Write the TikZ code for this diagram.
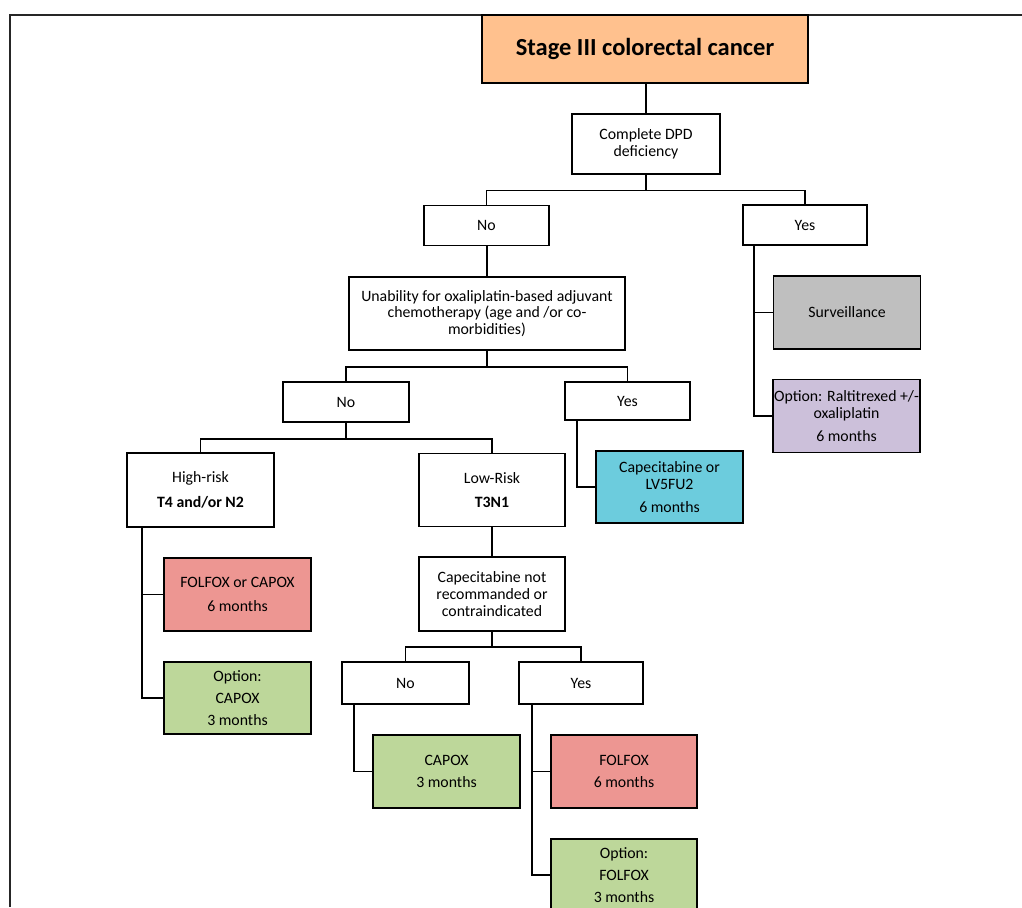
\documentclass[tikz,border=0pt]{standalone}
\usepackage{fontspec}
\setmainfont{Carlito}
\usepackage{xcolor}
\usepackage{tikz}
\usetikzlibrary{calc}

\definecolor{titleorange}{HTML}{FFC18E}
\definecolor{survgray}{HTML}{BFBFBF}
\definecolor{ralitlilac}{HTML}{CCC0DA}
\definecolor{capecyan}{HTML}{6CCCDD}
\definecolor{folfoxred}{HTML}{ED9692}
\definecolor{capoxgreen}{HTML}{BDD79A}

\begin{document}
\begin{tikzpicture}[x=1pt,y=-1pt,
    box/.style={draw=black,line width=1.5pt,align=center,inner sep=1pt,
      font=\fontsize{15.8}{16.8}\selectfont,minimum width=147pt,minimum height=73pt},
    answer/.style={box,minimum width=125pt,minimum height=40pt},
    link/.style={line width=1.5pt,black}]
    % Page frame
    \useasboundingbox (0,0) rectangle (1022,907);
    \clip (0,0) rectangle (1022,907);
    \draw[line width=1.9pt,black!85] (10,907) -- (10,15) -- (1022,15);

    % Top of the tree
    \node[box,fill=titleorange,minimum width=326pt,minimum height=68pt,
      font=\fontsize{24.5}{28}\selectfont\bfseries] (title) at (645,49) {Stage III colorectal cancer};
    \node[box,fill=white,minimum width=148pt,minimum height=60pt] (dpd) at (646,144) {Complete DPD\\deficiency};

    % First answer level
    \node[answer] (no1) at (486.5,225.5) {No};
    \node[answer,minimum width=124pt] (yes1) at (805,225) {Yes};

    % DPD deficient branch
    \node[box,fill=survgray] (surv) at (847,312.5) {Surveillance};
    \node[box,fill=ralitlilac] (ralti) at (846.5,416) {Option: Raltitrexed +/-\\oxaliplatin\\[6pt]6 months};

    % Oxaliplatin question
    \node[box,minimum width=276pt] (unable) at (487,313.5) {Unability for oxaliplatin-based adjuvant\\chemotherapy (age and /or co-\\morbidities)};
    \node[answer,minimum width=126pt] (no2) at (346,402) {No};
    \node[answer,minimum height=38pt] (yes2) at (627.5,401) {Yes};
    \node[box,fill=capecyan,minimum height=72pt] (cape) at (669.5,487) {Capecitabine or\\LV5FU2\\[6pt]6 months};

    % Risk groups
    \node[box,minimum height=74pt] (high) at (200.5,490) {High-risk\\[8pt]\textbf{T4 and/or N2}};
    \node[box,minimum width=146pt] (low) at (492,490) {Low-Risk\\[8pt]\textbf{T3N1}};

    % High-risk options
    \node[box,fill=folfoxred] (folcap) at (237.5,594.5) {FOLFOX or CAPOX\\[7pt]6 months};
    \node[box,fill=capoxgreen,minimum height=72pt] (optcapox) at (237.5,698) {Option:\\[5pt]CAPOX\\[5pt]3 months};

    % Low-risk options
    \node[box,minimum width=146pt,minimum height=74pt] (capenot) at (492,594) {Capecitabine not\\recommanded or\\contraindicated};
    \node[answer,minimum width=127pt,minimum height=42pt] (no3) at (405.5,683) {No};
    \node[answer,minimum width=124pt,minimum height=42pt] (yes3) at (581,683) {Yes};
    \node[box,fill=capoxgreen] (capox) at (446.5,771.5) {CAPOX\\[6pt]3 months};
    \node[box,fill=folfoxred,minimum width=146pt] (folfox) at (624,771.5) {FOLFOX\\[6pt]6 months};
    \node[box,fill=capoxgreen,minimum width=146pt,minimum height=72pt] (optfol) at (624,875) {Option:\\[5pt]FOLFOX\\[5pt]3 months};

    % Connectors
    \draw[link] (dpd.north) -- (dpd.north |- title.south);
    \draw[link] (dpd.south) -- ++(0,15.5) coordinate (bar1);
    \draw[link] (no1.north) |- (bar1) -| (yes1.north);
    \draw[link] (unable.north) -- (unable.north |- no1.south);
    \draw[link] ([xshift=-51pt]yes1.south) |- (surv.west);
    \draw[link] ([xshift=-51pt]yes1.south) |- (ralti.west);

    \draw[link] (unable.south) -- ++(0,16) coordinate (bar2);
    \draw[link] (no2.north) |- (bar2) -| (yes2.north);
    \draw[link] ([xshift=-50.5pt]yes2.south) |- (cape.west);

    \draw[link] (no2.south) -- ++(0,16) coordinate (bar3);
    \draw[link] (high.north) |- (bar3) -| (low.north);
    \draw[link] ([xshift=-58.5pt]high.south) |- (folcap.west);
    \draw[link] ([xshift=-58.5pt]high.south) |- (optcapox.west);

    \draw[link] (low.south) -- (capenot.north);
    \draw[link] (capenot.south) -- ++(0,15) coordinate (bar4);
    \draw[link] (no3.north) |- (bar4) -| (yes3.north);
    \draw[link] ([xshift=-51.5pt]no3.south) |- (capox.west);
    \draw[link] ([xshift=-49pt]yes3.south) |- (folfox.west);
    \draw[link] ([xshift=-49pt]yes3.south) |- (optfol.west);
\end{tikzpicture}
\end{document}
